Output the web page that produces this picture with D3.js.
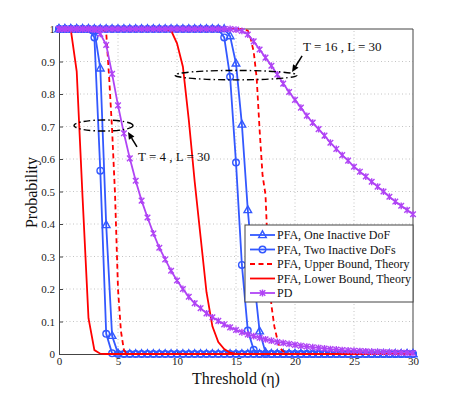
<!DOCTYPE html>
<html>
<head>
<meta charset="utf-8">
<script src="https://cdn.jsdelivr.net/npm/d3@7"></script>
<style>
  body { margin: 0; background: #fff; }
  text { font-family: "Liberation Serif", "Times New Roman", serif; }
</style>
</head>
<body>
<div id="chart"></div>
<script>
// Threshold grid (x) shared by the simulated curves
const thresholds = [0,0.5,1,1.5,2,2.5,3,3.5,4,4.5,5,5.5,6,6.5,7,7.5,8,8.5,9,9.5,
    10,10.5,11,11.5,12,12.5,13,13.5,14,14.5,15,15.5,16,16.5,17,17.5,18,18.5,19,19.5,
    20,20.5,21,21.5,22,22.5,23,23.5,24,24.5,25,25.5,26,26.5,27,27.5,28,28.5,29,29.5,30];

// T = 4, L = 30
const pfaOneT4 = [1,1,1,1,1,1,0.995,0.879,0.397,0.056,0.002,
    0,0,0,0,0,0,0,0,0,0,0,0,0,0,0,0,0,0,0,0,0,0,0,0,0,0,0,0,0,0,0,0,0,0,0,0,0,0,0,0,0,0,0,0,0,0,0,0,0,0];
const pfaTwoT4 = [1,1,1,1,1,1,0.974,0.564,0.062,0.002,0,
    0,0,0,0,0,0,0,0,0,0,0,0,0,0,0,0,0,0,0,0,0,0,0,0,0,0,0,0,0,0,0,0,0,0,0,0,0,0,0,0,0,0,0,0,0,0,0,0,0,0];
const pdT4 = [1,1,1,1,1,1,0.998,0.985,0.951,0.862,0.765,0.679,0.602,0.533,0.472,0.42,
    0.371,0.327,0.291,0.256,0.226,0.2,0.176,0.156,0.141,0.125,0.113,0.102,0.091,0.082,
    0.074,0.067,0.06,0.055,0.05,0.045,0.041,0.037,0.034,0.031,0.028,0.025,0.023,0.021,
    0.019,0.017,0.015,0.014,0.012,0.011,0.01,0.009,0.008,0.007,0.0065,0.006,0.005,0.0045,
    0.004,0.0035,0.003];
const upperT4X = [0,3.75,4,4.25,4.5,4.75,5,5.25,5.5,5.75,30];
const upperT4Y = [1,1,0.99,0.85,0.69,0.49,0.2,0.07,0.012,0,0];
const lowerT4X = [0,1,1.5,2,2.5,3,3.5,4,30];
const lowerT4Y = [1,0.998,0.87,0.48,0.11,0.012,0.001,0,0];

// T = 16, L = 30
const pfaOneT16 = [1,1,1,1,1,1,1,1,1,1,1,1,1,1,1,1,1,1,1,1,1,1,1,1,1,1,1,1,1,
    0.978,0.894,0.706,0.443,0.24,0.07,0.005,
    0,0,0,0,0,0,0,0,0,0,0,0,0,0,0,0,0,0,0,0,0,0,0,0,0];
const pfaTwoT16 = [1,1,1,1,1,1,1,1,1,1,1,1,1,1,1,1,1,1,1,1,1,1,1,1,1,1,1,1,
    0.974,0.853,0.589,0.274,0.072,0.013,0,
    0,0,0,0,0,0,0,0,0,0,0,0,0,0,0,0,0,0,0,0,0,0,0,0,0,0];
const pdT16 = [1,1,1,1,1,1,1,1,1,1,1,1,1,1,1,1,1,1,1,1,1,1,1,1,1,1,1,1,1,1,
    0.998,0.994,0.983,0.962,0.937,0.912,0.887,0.86,0.832,0.806,0.782,0.758,0.733,0.712,
    0.692,0.672,0.65,0.631,0.612,0.595,0.576,0.561,0.546,0.53,0.515,0.5,0.484,0.469,
    0.456,0.443,0.43];
const upperT16X = [0,15.5,16,16.25,16.5,16.75,17,17.25,17.5,17.75,18,18.25,18.5,18.75,19,19.5,30];
const upperT16Y = [1,1,0.995,0.97,0.93,0.85,0.69,0.55,0.49,0.27,0.15,0.085,0.045,0.018,0.008,0,0];
const lowerT16X = [0,9,9.5,10,10.5,11,11.5,12,12.5,13,13.5,14,14.5,15,30];
const lowerT16Y = [1,1,0.995,0.956,0.884,0.72,0.53,0.36,0.19,0.085,0.037,0.015,0.004,0,0];

// Axis ticks and legend
const xTicks = [0,5,10,15,20,25,30];
const yTicks = [0,0.1,0.2,0.3,0.4,0.5,0.6,0.7,0.8,0.9,1];
const legendLabels = ["PFA, One Inactive DoF", "PFA, Two Inactive DoFs",
    "PFA, Upper Bound, Theory", "PFA, Lower Bound, Theory", "PD"];

const blue = "#3358ff", red = "#ff0000", purple = "#b044f5";

const width = 457, height = 399;
const margin = {left: 59, right: 44, top: 29, bottom: 45};

const svg = d3.select("#chart").append("svg")
    .attr("width", width)
    .attr("height", height);

const x = d3.scaleLinear().domain([0, 30]).range([margin.left, width - margin.right]);
const y = d3.scaleLinear().domain([0, 1]).range([height - margin.bottom, margin.top]);

// grid
const grid = svg.append("g")
    .style("stroke", "#c4c4c4")
    .style("stroke-dasharray", "1,2.5");
grid.selectAll(".gx").data(xTicks.slice(1, -1)).enter().append("line")
    .attr("x1", d => x(d)).attr("x2", d => x(d))
    .attr("y1", y(0)).attr("y2", y(1));
grid.selectAll(".gy").data(yTicks.slice(1, -1)).enter().append("line")
    .attr("x1", x(0)).attr("x2", x(30))
    .attr("y1", d => y(d)).attr("y2", d => y(d));

// axes
const xAxis = svg.append("g")
    .attr("transform", "translate(0," + y(0) + ")")
    .call(d3.axisBottom(x).tickValues(xTicks).tickSizeInner(-4).tickSizeOuter(0).tickPadding(3));
const yAxis = svg.append("g")
    .attr("transform", "translate(" + x(0) + ",0)")
    .call(d3.axisLeft(y).tickValues(yTicks).tickFormat(d => d === 0 ? "0" : d === 1 ? "1" : d3.format(".1f")(d))
        .tickSizeInner(-4).tickSizeOuter(0).tickPadding(4));
[xAxis, yAxis].forEach(a => {
    a.selectAll("text").style("font-family", "Liberation Serif").style("font-size", "11px").attr("fill", "#222");
    a.selectAll("line, path").attr("stroke", "#444");
});

// top & right frame
svg.append("path")
    .attr("d", "M" + x(0) + "," + y(1) + "H" + x(30) + "V" + y(0))
    .style("fill", "none")
    .style("stroke", "#444");

const line = d3.line().x(d => x(d[0])).y(d => y(d[1]));
const zip = (xs, ys) => xs.map((v, i) => [v, ys[i]]);

const markerPaths = {
    tri: "M0,-4.2L3.8,2.6L-3.8,2.6Z",
    circ: "M3.3,0A3.3,3.3 0 1,1 -3.3,0A3.3,3.3 0 1,1 3.3,0Z",
    star: "M-2.8,-2.8L2.8,2.8M-2.8,2.8L2.8,-2.8M0,-3.4L0,3.4"
};

const series = [
    {data: zip(thresholds, pfaOneT4), color: blue, marker: "tri", dash: null},
    {data: zip(thresholds, pfaOneT16), color: blue, marker: "tri", dash: null},
    {data: zip(thresholds, pfaTwoT4), color: blue, marker: "circ", dash: null},
    {data: zip(thresholds, pfaTwoT16), color: blue, marker: "circ", dash: null},
    {data: zip(upperT4X, upperT4Y), color: red, marker: null, dash: "5,3.5"},
    {data: zip(upperT16X, upperT16Y), color: red, marker: null, dash: "5,3.5"},
    {data: zip(lowerT4X, lowerT4Y), color: red, marker: null, dash: null},
    {data: zip(lowerT16X, lowerT16Y), color: red, marker: null, dash: null},
    {data: zip(thresholds, pdT4), color: purple, marker: "star", dash: null},
    {data: zip(thresholds, pdT16), color: purple, marker: "star", dash: null}
];

const plot = svg.append("g");
series.forEach(s => {
    const g = plot.append("g");
    g.append("path")
        .attr("d", line(s.data))
        .style("fill", "none")
        .style("stroke", s.color)
        .style("stroke-width", 1.8)
        .style("stroke-dasharray", s.dash);
    if (s.marker) {
        g.selectAll("path.m").data(s.data).enter().append("path")
            .attr("class", "m")
            .attr("transform", d => "translate(" + x(d[0]) + "," + y(d[1]) + ")")
            .attr("d", markerPaths[s.marker])
            .style("fill", "none")
            .style("stroke", s.color)
            .style("stroke-width", 1.4);
    }
});

// annotations
const ann = svg.append("g").style("stroke", "#000").style("fill", "none");
const ellipses = [
    {cx: 3.77, cy: 0.703, rx: 2.5, ry: 0.017},
    {cx: 15.0, cy: 0.858, rx: 5.17, ry: 0.0145}
];
ellipses.forEach(e => {
    ann.append("ellipse")
        .attr("cx", x(e.cx)).attr("cy", y(e.cy))
        .attr("rx", x(e.rx) - x(0)).attr("ry", y(0) - y(e.ry))
        .style("stroke-width", 1.4)
        .style("stroke-dasharray", "7,3,1.5,3");
});
const arrows = [
    {from: [6.61, 0.637], to: [5.85, 0.683], label: "T = 4 , L = 30", tx: 6.69, ty: 0.594},
    {from: [20.6, 0.917], to: [19.75, 0.868], label: "T = 16 , L = 30", tx: 20.68, ty: 0.932}
];
arrows.forEach(a => {
    const x1 = x(a.from[0]), y1 = y(a.from[1]), x2 = x(a.to[0]), y2 = y(a.to[1]);
    const ang = Math.atan2(y2 - y1, x2 - x1);
    const hl = 7, hw = 3.2;
    const bx = x2 - hl * Math.cos(ang), by = y2 - hl * Math.sin(ang);
    ann.append("line")
        .attr("x1", x1).attr("y1", y1).attr("x2", bx).attr("y2", by)
        .style("stroke-width", 1.5);
    ann.append("path")
        .attr("d", "M" + x2 + "," + y2 +
            "L" + (bx + hw * Math.sin(ang)) + "," + (by - hw * Math.cos(ang)) +
            "L" + (bx - hw * Math.sin(ang)) + "," + (by + hw * Math.cos(ang)) + "Z")
        .style("fill", "#000")
        .style("stroke", "none");
    svg.append("text")
        .attr("x", x(a.tx)).attr("y", y(a.ty))
        .style("font-size", "13px")
        .attr("fill", "#111")
        .text(a.label);
});

// legend
const legend = svg.append("g").attr("transform", "translate(245,225)");
legend.append("rect")
    .attr("width", 168).attr("height", 77)
    .style("fill", "#fff")
    .style("stroke", "#444");
const legendStyles = [
    {color: blue, marker: "tri", dash: null},
    {color: blue, marker: "circ", dash: null},
    {color: red, marker: null, dash: "5,3.5"},
    {color: red, marker: null, dash: null},
    {color: purple, marker: "star", dash: null}
];
legendLabels.forEach((lab, i) => {
    const st = legendStyles[i];
    const row = legend.append("g").attr("transform", "translate(0," + (10 + i * 14.5) + ")");
    row.append("line")
        .attr("x1", 5).attr("x2", 30)
        .style("stroke", st.color)
        .style("stroke-width", 1.8)
        .style("stroke-dasharray", st.dash);
    if (st.marker) {
        row.append("path")
            .attr("transform", "translate(17.5,0)")
            .attr("d", markerPaths[st.marker])
            .style("fill", "none")
            .style("stroke", st.color)
            .style("stroke-width", 1.4);
    }
    row.append("text")
        .attr("x", 32).attr("y", 4)
        .style("font-size", "12px")
        .attr("fill", "#111")
        .text(lab);
});

// axis titles
svg.append("text")
    .attr("x", (x(0) + x(30)) / 2).attr("y", 384)
    .attr("text-anchor", "middle")
    .style("font-size", "16px")
    .attr("fill", "#111")
    .text("Threshold (η)");
svg.append("text")
    .attr("transform", "translate(37," + (y(0.5) + 1) + ") rotate(-90)")
    .attr("text-anchor", "middle")
    .style("font-size", "16px")
    .attr("fill", "#111")
    .text("Probability");
</script>
</body>
</html>
